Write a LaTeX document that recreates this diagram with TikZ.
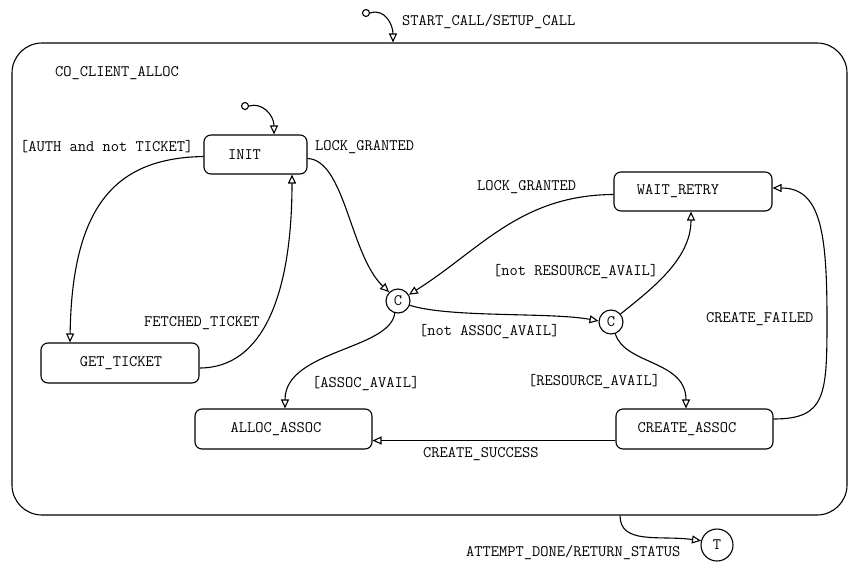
\documentclass[tikz,border=0pt]{standalone}
\usepackage{fontspec}
\usetikzlibrary{arrows.meta}
\begin{document}
\begin{tikzpicture}[x=1pt,y=-1pt,
  font=\ttfamily\fontsize{16}{18}\selectfont,
  stbox/.style={draw,line width=1.1pt,rounded corners=7pt,inner sep=0pt},
  junc/.style={draw,circle,line width=1.1pt,inner sep=0pt,minimum size=24pt},
  dot/.style={draw,circle,line width=1.1pt,inner sep=0pt,minimum size=7pt},
  lbl/.style={anchor=west,inner sep=0pt},
  tr/.style={line width=1.1pt,-{Triangle[open,length=9pt,width=8pt]}}
]
\useasboundingbox (0,0) rectangle (849,565);
% outer state
\node[draw,line width=1.1pt,rounded corners=30pt,minimum width=835pt,minimum height=472pt,inner sep=0pt] (outer) at (429.5,279) {};
\node[lbl] (outerlbl) at (55,73) {CO\_CLIENT\_ALLOC};
% states
\node[stbox,minimum width=103pt,minimum height=39pt] (init) at (255.5,154.5) {\hspace*{-22pt}INIT};
\node[stbox,minimum width=158pt,minimum height=40pt] (gt) at (120,363) {\hspace*{2pt}GET\_TICKET};
\node[stbox,minimum width=177pt,minimum height=40pt] (aa) at (283.5,429) {\hspace*{-15pt}ALLOC\_ASSOC};
\node[stbox,minimum width=158pt,minimum height=39pt] (wr) at (693,191.5) {\hspace*{-30pt}WAIT\_RETRY};
\node[stbox,minimum width=157pt,minimum height=40pt] (ca) at (694.5,429) {\hspace*{-15pt}CREATE\_ASSOC};
% junctions
\node[junc] (c1) at (398,301) {C};
\node[junc] (c2) at (611,322) {C};
\node[junc,minimum size=32pt] (t) at (717,545) {T};
% default transition dots
\node[dot] (i0) at (366,13) {};
\node[dot] (i1) at (245,106) {};
% transitions
\draw[tr] (i0.east) .. controls (385,8) and (393,25) .. ([xshift=-36.5pt]outer.north);
\draw[tr] (i1.east) .. controls (262,102) and (274,115) .. ([xshift=18.5pt]init.north);
\draw[tr] ([yshift=-2pt]init.west) .. controls (120,158) and (72,200) .. ([xshift=-50pt]gt.north);
\draw[tr] ([yshift=-5pt]gt.east) .. controls (265,368) and (292,290) .. ([xshift=36.5pt]init.south);
\draw[tr] ([yshift=-4pt]init.east) .. controls (345,160) and (350,255) .. (c1.135);
\draw[tr] ([yshift=-3pt]wr.west) .. controls (520,195) and (480,250) .. (c1.30);
\draw[tr] (c1.-20) .. controls (450,318) and (550,312) .. (c2.175);
\draw[tr] (c1.-105) .. controls (390,350) and (285,350) .. ([xshift=1.5pt]aa.north);
\draw[tr] (c2.40) .. controls (650,290) and (691,260) .. ([xshift=-2pt]wr.south);
\draw[tr] (c2.-70) .. controls (625,365) and (686,360) .. ([xshift=-8.5pt]ca.north);
\draw[tr] ([yshift=-11.5pt]ca.west) -- ([yshift=-11.5pt]aa.east);
\draw[tr] ([yshift=10pt]ca.east) .. controls (826,419) and (827,395) .. (827,319) .. controls (827,230) and (820,188) .. ([yshift=3.5pt]wr.east);
\draw[tr] ([xshift=190.5pt]outer.south) .. controls (620,545) and (660,535) .. (t.165);
% labels
\node[lbl] (l0) at (402,22) {START\_CALL/SETUP\_CALL};
\node[lbl] (l1) at (20,147) {[AUTH and not TICKET]};
\node[lbl] (l2) at (315,147) {LOCK\_GRANTED};
\node[lbl] (l3) at (477,187) {LOCK\_GRANTED};
\node[lbl] (l4) at (493,272) {[not RESOURCE\_AVAIL]};
\node[lbl] (l5) at (419,332) {[not ASSOC\_AVAIL]};
\node[lbl] (l6) at (706,319) {CREATE\_FAILED};
\node[lbl] (l7) at (528,382) {[RESOURCE\_AVAIL]};
\node[lbl] (l8) at (423,454) {CREATE\_SUCCESS};
\node[lbl] (l9) at (312,384) {[ASSOC\_AVAIL]};
\node[lbl] (l10) at (144,323) {FETCHED\_TICKET};
\node[lbl] (l11) at (466,553) {ATTEMPT\_DONE/RETURN\_STATUS};
\end{tikzpicture}
\end{document}
